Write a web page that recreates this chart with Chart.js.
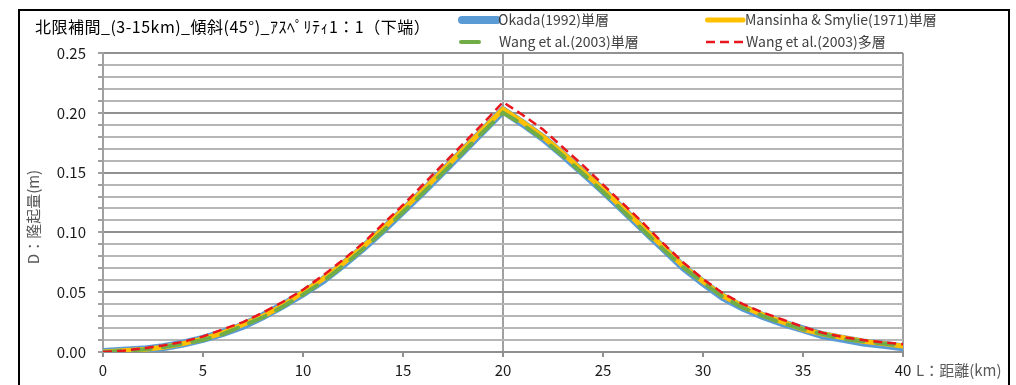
<!DOCTYPE html>
<html>
<head>
<meta charset="utf-8">
<script src="https://cdn.jsdelivr.net/npm/chart.js@4.4.1/dist/chart.umd.min.js"></script>
<style>
  html, body { margin: 0; padding: 0; background: #fff; }
  canvas { display: block; }
</style>
</head>
<body>
<canvas id="uplift" width="1016" height="385"></canvas>
<script>
// 距離 L (km)
const distance = [0, 1, 2, 3, 4, 5, 6, 7, 8, 9, 10, 11, 12, 13, 14, 15, 16, 17, 18, 19, 20,
  21, 22, 23, 24, 25, 26, 27, 28, 29, 30, 31, 32, 33, 34, 35, 36, 37, 38, 39, 40];

// 隆起量 D (m)
const okada = [0.000, 0.001, 0.002, 0.004, 0.007, 0.011, 0.016, 0.022, 0.030, 0.039, 0.049,
  0.060, 0.073, 0.087, 0.102, 0.118, 0.134, 0.151, 0.168, 0.185, 0.202,
  0.191, 0.179, 0.165, 0.150, 0.135, 0.119, 0.103, 0.087, 0.071, 0.058,
  0.046, 0.037, 0.030, 0.024, 0.019, 0.014, 0.011, 0.008, 0.006, 0.004];
const mansinha = [0.000, 0.001, 0.002, 0.004, 0.007, 0.011, 0.016, 0.023, 0.030, 0.039, 0.050,
  0.061, 0.074, 0.088, 0.103, 0.119, 0.135, 0.152, 0.169, 0.186, 0.203,
  0.192, 0.180, 0.166, 0.151, 0.136, 0.120, 0.104, 0.088, 0.072, 0.059,
  0.047, 0.038, 0.031, 0.025, 0.019, 0.015, 0.012, 0.009, 0.007, 0.005];
const wangSingle = [0.000, 0.001, 0.002, 0.004, 0.007, 0.010, 0.015, 0.022, 0.029, 0.038, 0.048,
  0.059, 0.072, 0.086, 0.101, 0.117, 0.133, 0.150, 0.167, 0.184, 0.200,
  0.190, 0.178, 0.164, 0.149, 0.134, 0.118, 0.102, 0.086, 0.071, 0.058,
  0.046, 0.037, 0.030, 0.024, 0.019, 0.015, 0.011, 0.009, 0.007, 0.005];
const wangMulti = [0.000, 0.001, 0.003, 0.0055, 0.0085, 0.013, 0.019, 0.025, 0.033, 0.042, 0.052,
  0.064, 0.077, 0.091, 0.107, 0.123, 0.140, 0.157, 0.174, 0.191, 0.209,
  0.198, 0.186, 0.171, 0.156, 0.140, 0.124, 0.108, 0.091, 0.075, 0.061,
  0.049, 0.040, 0.033, 0.027, 0.021, 0.016, 0.0125, 0.010, 0.008, 0.0065];

const seriesNames = ['Okada(1992)単層', 'Mansinha & Smylie(1971)単層', 'Wang et al.(2003)単層', 'Wang et al.(2003)多層'];
const chartTitle = '北限補間_(3-15km)_傾斜(45°)_ｱｽﾍﾟﾘﾃｨ1：1（下端）';
const xTitle = 'L：距離(km)';
const yTitle = 'D：隆起量(m)';

const FONT = '"Noto Sans CJK JP", "Noto Sans", sans-serif';
const pts = arr => arr.map((v, i) => ({ x: distance[i], y: v }));

// タイトル・凡例・軸ラベル・外枠
const decor = {
  id: 'decor',
  afterDraw(chart) {
    const c = chart.ctx;
    c.save();
    c.strokeStyle = '#000';
    c.lineWidth = 2;
    c.strokeRect(19, 10, 990, 400);

    c.textBaseline = 'middle';
    c.textAlign = 'left';
    c.fillStyle = '#000';
    c.font = '16px ' + FONT;
    c.letterSpacing = '0.5px';
    c.fillText(chartTitle, 35, 27);
    c.letterSpacing = '0px';

    // 凡例 (2 x 2)
    const spots = [[458, 20], [705, 20], [459, 42], [706, 42]];
    chart.data.datasets.forEach((ds, i) => {
      const [lx, ly] = spots[i];
      c.save();
      c.strokeStyle = ds.borderColor;
      c.lineWidth = ds.borderWidth;
      c.lineCap = ds.borderCapStyle || 'butt';
      c.setLineDash(ds.borderDash || []);
      c.beginPath();
      c.moveTo(lx + (c.lineCap === 'round' ? ds.borderWidth / 2 : 0), ly);
      c.lineTo(lx + ds.legendLen, ly);
      c.stroke();
      c.restore();
      c.fillStyle = '#404040';
      c.font = '14px ' + FONT;
      c.fillText(ds.label, lx + 40, ly);
    });

    // 軸ラベル
    c.fillStyle = '#595959';
    c.font = '15px ' + FONT;
    c.fillText(xTitle, 916, 370);
    c.translate(33, 217);
    c.rotate(-Math.PI / 2);
    c.textAlign = 'center';
    c.fillText(yTitle, 0, 0);
    c.restore();
  }
};

new Chart(document.getElementById('uplift'), {
  type: 'line',
  data: {
    datasets: [
      {
        label: seriesNames[0],
        data: pts(okada),
        borderColor: '#5b9bd5',
        borderWidth: 8,
        borderCapStyle: 'round',
        legendLen: 39,
        order: 4
      },
      {
        label: seriesNames[1],
        data: pts(mansinha),
        borderColor: '#ffc000',
        borderWidth: 5,
        borderCapStyle: 'round',
        legendLen: 38,
        order: 3
      },
      {
        label: seriesNames[2],
        data: pts(wangSingle),
        borderColor: '#70ad47',
        borderWidth: 4,
        borderCapStyle: 'round',
        borderDash: [18, 12],
        legendLen: 24,
        order: 2
      },
      {
        label: seriesNames[3],
        data: pts(wangMulti),
        borderColor: '#e8161d',
        borderWidth: 2.5,
        borderDash: [9, 5],
        legendLen: 38,
        order: 1
      }
    ]
  },
  options: {
    responsive: false,
    animation: false,
    layout: { padding: { top: 53, right: 113, left: 0, bottom: 0 } },
    elements: { point: { radius: 0 }, line: { tension: 0 } },
    plugins: {
      legend: { display: false },
      title: { display: false },
      tooltip: { enabled: false }
    },
    scales: {
      x: {
        type: 'linear',
        min: 0,
        max: 40,
        ticks: {
          stepSize: 5,
          padding: 4,
          color: '#1a1a1a',
          font: { family: FONT, size: 15 },
          maxRotation: 0
        },
        grid: {
          color: ctx => (ctx.tick && ctx.tick.value % 20 === 0) ? '#a0a0a0' : 'rgba(0,0,0,0)',
          lineWidth: 2,
          tickColor: '#909090',
          tickLength: 5
        },
        border: { color: '#909090', width: 2 },
        afterFit: s => { s.height = 33; }
      },
      y: {
        min: 0,
        max: 0.25,
        ticks: {
          stepSize: 0.01,
          autoSkip: false,
          padding: 12,
          color: '#1a1a1a',
          font: { family: FONT, size: 15 },
          callback: v => {
            const r = Math.round(v * 100);
            return r % 5 === 0 ? (r / 100).toFixed(2) : '';
          }
        },
        grid: {
          color: ctx => Math.round(ctx.tick.value * 100) % 5 === 0 ? '#919191' : '#b6b6b6',
          lineWidth: 2,
          tickColor: '#a0a0a0',
          tickLength: 5
        },
        border: { color: '#a0a0a0', width: 2 },
        afterFit: s => { s.width = 103; }
      }
    }
  },
  plugins: [decor]
});
</script>
</body>
</html>
